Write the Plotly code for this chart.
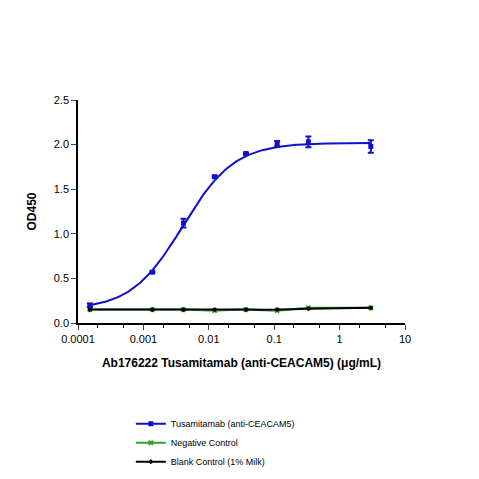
import numpy as np
import plotly.graph_objects as go

conc = [0.000152, 0.00137, 0.0041, 0.0123, 0.037, 0.111, 0.333, 3.0]
tusa = [0.20, 0.57, 1.12, 1.64, 1.90, 2.01, 2.03, 1.98]
tusa_err = [0.02, 0.01, 0.05, 0.01, 0.01, 0.03, 0.06, 0.07]
neg = [0.15, 0.15, 0.15, 0.14, 0.15, 0.14, 0.17, 0.17]
blank = [0.15, 0.15, 0.15, 0.15, 0.15, 0.15, 0.16, 0.17]

# 4PL fit parameters (bottom, top, EC50, hill) for the blue curve
fit_bottom, fit_top, fit_ec50, fit_hill = 0.15, 2.02, 0.004, 1.1
xs = np.logspace(np.log10(conc[0]), np.log10(conc[-1]), 200)
fit = fit_bottom + (fit_top - fit_bottom) / (1 + (fit_ec50 / xs) ** fit_hill)

blue, green = "#1010c8", "#2ca02c"
fig = go.Figure()
fig.add_trace(go.Scatter(x=conc, y=neg, mode="lines+markers", name="Negative Control",
                         line=dict(color=green, width=2, shape="spline", smoothing=0.5),
                         marker=dict(symbol="x", size=5)))
fig.add_trace(go.Scatter(x=conc, y=blank, mode="lines+markers", name="Blank Control (1% Milk)",
                         line=dict(color="black", width=2, shape="spline", smoothing=0.5),
                         marker=dict(symbol="diamond", size=4)))
fig.add_trace(go.Scatter(x=xs, y=fit, mode="lines", showlegend=False,
                         line=dict(color=blue, width=2)))
fig.add_trace(go.Scatter(x=conc, y=tusa, mode="markers", showlegend=False,
                         marker=dict(symbol="square", size=5, color=blue),
                         error_y=dict(type="data", array=tusa_err, color=blue, thickness=2, width=3)))
fig.add_trace(go.Scatter(x=[None], y=[None], mode="lines+markers", name="Tusamitamab (anti-CEACAM5)",
                         line=dict(color=blue, width=2), marker=dict(symbol="square", size=5)))
fig.data = (fig.data[4], fig.data[0], fig.data[1], fig.data[2], fig.data[3])

fig.update_layout(
    width=479, height=479, plot_bgcolor="white", paper_bgcolor="white",
    font=dict(family="Liberation Sans, Arial", size=11, color="black"),
    margin=dict(l=70, r=82, t=92, b=163),
    legend=dict(orientation="h", x=0.42, xanchor="center", y=-0.53, yanchor="middle",
                font=dict(size=9), entrywidth=0, itemwidth=30),
    xaxis=dict(type="log", range=[-4, 1], showline=True, linecolor="black", linewidth=1.5,
               ticks="outside", tickvals=[0.0001, 0.001, 0.01, 0.1, 1, 10],
               ticktext=["0.0001", "0.001", "0.01", "0.1", "1", "10"],
               minor=dict(ticks="outside", ticklen=3, tickcolor="black"),
               showgrid=False, zeroline=False,
               title=dict(text="<b>Ab176222 Tusamitamab (anti-CEACAM5) (μg/mL)</b>", font=dict(size=12))),
    yaxis=dict(range=[0, 2.5], dtick=0.5, tickformat=".1f", showline=True, linecolor="black",
               linewidth=1.5, ticks="outside", showgrid=False, zeroline=False,
               title=dict(text="<b>OD450</b>", font=dict(size=12))),
)
fig.write_html("out.html")
